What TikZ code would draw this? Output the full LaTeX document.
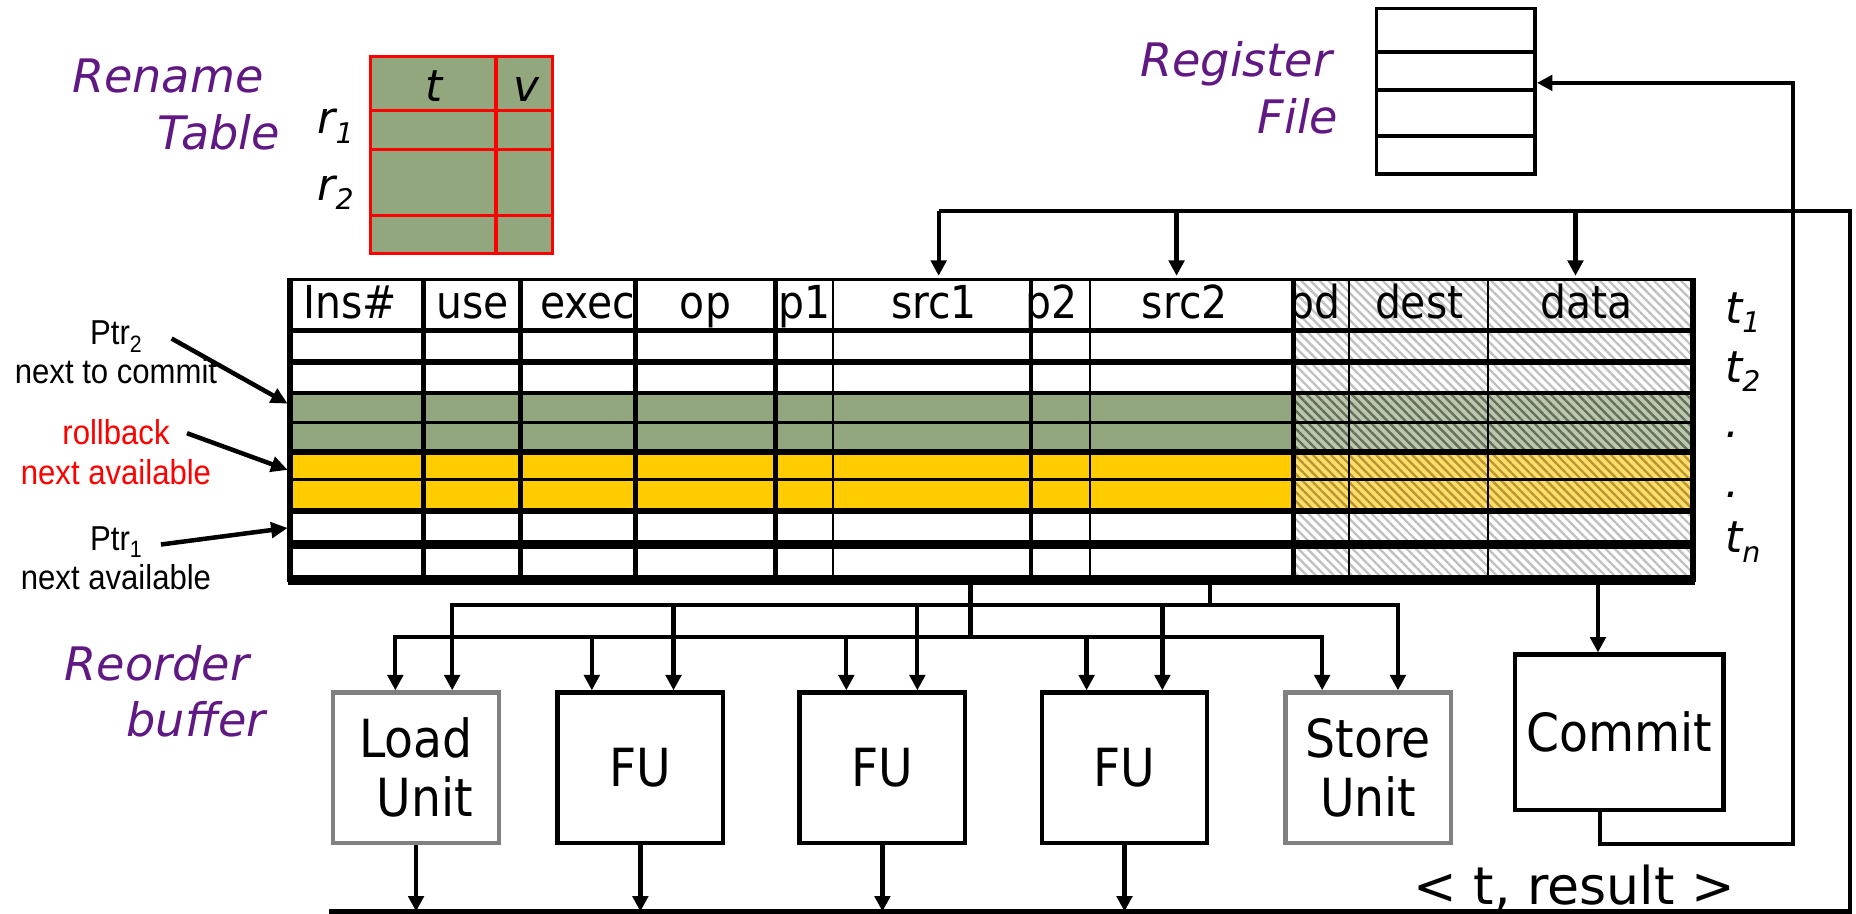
\documentclass[tikz,border=0pt]{standalone}
\usepackage{fontspec}
\usetikzlibrary{arrows.meta,patterns.meta,calc}
\newfontfamily\dvs{DejaVu Sans}
\newfontfamily\dvc[FakeStretch=0.9]{DejaVu Sans}
\newfontfamily\lbn[FakeStretch=0.9]{Liberation Sans}
\definecolor{robgreen}{RGB}{147,167,126}
\definecolor{hgreen}{RGB}{188,200,174}
\definecolor{pgreen}{RGB}{100,110,92}
\definecolor{robyellow}{RGB}{255,204,0}
\definecolor{hyellow}{RGB}{255,222,105}
\definecolor{pyellow}{RGB}{185,150,50}
\definecolor{labpurple}{RGB}{96,25,130}
\definecolor{unitgray}{RGB}{128,128,128}
\definecolor{hatchgray}{RGB}{192,192,192}
\newcommand\isub[1]{\raisebox{-4pt}{\fontsize{12}{12}\selectfont #1}}
\newcommand\psub[1]{\raisebox{-3pt}{\fontsize{10}{10}\selectfont #1}}
\newcommand\tsp[1]{\rule{#1}{0pt}}
\begin{document}
\begin{tikzpicture}[x=0.5pt,y=-0.5pt,
  purp/.style={font=\dvs\itshape\fontsize{19.5}{24}\selectfont, text=labpurple, inner sep=0pt, align=right},
  ital/.style={font=\dvs\itshape\fontsize{18.5}{22}\selectfont, inner sep=0pt},
  hdr/.style={font=\dvc\fontsize{19.2}{22}\selectfont, inner sep=0pt},
  ptrlab/.style={font=\lbn\fontsize{14.6}{16.5}\selectfont, inner sep=0pt, align=center},
  wire/.style={line width=1.8pt},
  arr/.style={wire, -{Triangle[length=6.5pt,width=6.5pt]}},
  arrtwo/.style={wire, {Triangle[length=6.5pt,width=6.5pt]}-{Triangle[length=6.5pt,width=6.5pt]}},
  ptrarr/.style={line width=1.9pt, -{Triangle[length=7pt,width=6.5pt]}},
  unitbox/.style={draw, line width=1.8pt, minimum width=70pt, minimum height=63.5pt, inner sep=0pt, font=\dvc\fontsize{22.2}{25}\selectfont},
  grayunit/.style={unitbox, draw=unitgray},
  hatch/.style={pattern={Lines[angle=-45,distance=2.7pt,line width=1pt]}},
]
\useasboundingbox (0,0) rectangle (1568,772);

% ---------- Rename table ----------
\fill[robgreen] (313,48) rectangle (467,214);
\draw[red, line width=1.3pt] (313,48) rectangle (467,214);
\draw[red, line width=1.3pt] (419,48) -- (419,214) (313,93) -- (467,93) (313,126) -- (467,126) (313,182) -- (467,182);
\node[ital, anchor=base] (rt) at (367,86) {t};
\node[ital, anchor=base] (rv) at (445,86) {v};
\node[ital, anchor=base west] (r1) at (268,113) {r\isub{1}};
\node[ital, anchor=base west] (r2) at (268,169) {r\isub{2}};
\node[purp, anchor=east] (rnl) at (237,88) {Rename\tsp{7pt}\\Table};

% ---------- Register file ----------
\node[draw, line width=1.5pt, minimum width=67pt, minimum height=70pt, inner sep=0pt] (regfile) at (1230,77) {};
\draw[line width=2pt] (1163,44) -- (1297,44) (1163,76) -- (1297,76) (1163,115) -- (1297,115);
\node[purp, anchor=east] (rfl) at (1131,74) {Register\tsp{2.5pt}\\File};

% ---------- Reorder buffer ----------
\fill[robgreen] (245,332) rectangle (1093,382);
\fill[robyellow] (245,382) rectangle (1093,432);
\fill[hgreen] (1093,332) rectangle (1430,382);
\fill[hyellow] (1093,382) rectangle (1430,432);
\fill[hatch, pattern color=hatchgray] (1093,236) rectangle (1430,332) (1093,432) rectangle (1430,490);
\fill[hatch, pattern color=pgreen] (1093,332) rectangle (1430,382);
\fill[hatch, pattern color=pyellow] (1093,382) rectangle (1430,432);

\node[hdr, anchor=base] (hins) at (296,269) {Ins\#};
\node[hdr, anchor=base] (huse) at (399,269) {use};
\node[hdr, anchor=base west] (hexec) at (456,269) {exec};
\node[hdr, anchor=base] (hop) at (596,269) {op};
\node[hdr, anchor=base west] (hp1) at (657,269) {p1};
\node[hdr, anchor=base] (hsrc1) at (789,269) {src1};
\node[hdr, anchor=base west] (hp2) at (866,269) {p2};
\node[hdr, anchor=base] (hsrc2) at (1001,269) {src2};
\node[hdr, anchor=base west] (hpd) at (1088,269) {pd};
\node[hdr, anchor=base] (hdest) at (1199,269) {dest};
\node[hdr, anchor=base] (hdata) at (1340,269) {data};

\draw[line width=1.5pt] (245,236) -- (1432,236);
\draw[line width=2.3pt] (245,279) -- (1430,279);
\draw[line width=2.4pt] (245,306) -- (1430,306);
\draw[line width=2pt] (245,332) -- (1430,332);
\draw[line width=1.5pt] (245,357) -- (1430,357);
\draw[line width=2.3pt] (245,382) -- (1430,382);
\draw[line width=1.2pt] (245,405) -- (1430,405);
\draw[line width=2.5pt] (245,432) -- (1430,432);
\draw[line width=3.5pt] (245,460) -- (1430,460);
\draw[line width=2pt] (358,236) -- (358,490) (440,236) -- (440,490) (537,236) -- (537,490)
  (655,236) -- (655,490) (871,236) -- (871,490) (1093,236) -- (1093,490);
\draw[line width=0.9pt] (704,236) -- (704,490) (921,236) -- (921,490) (1140,236) -- (1140,490) (1257,236) -- (1257,490);
\draw[line width=2.5pt] (245,235) -- (245,492) (1430,235) -- (1430,492);
\draw[line width=4.2pt] (243,490) -- (1432,490);

\node[ital, anchor=base west] (t1) at (1457,273) {t\isub{1}};
\node[ital, anchor=base west] (t2) at (1457,323) {t\isub{2}};
\node[ital, anchor=base west] (dot1) at (1457,370) {.};
\node[ital, anchor=base west] (dot2) at (1457,420) {.};
\node[ital, anchor=base west] (tn) at (1457,467) {t\isub{n}};

\node[purp, anchor=east] (robl) at (225,584) {Reorder\tsp{7pt}\\buffer};

% ---------- pointers ----------
\node[ptrlab] (p2l) at (98,298) {Ptr\psub{2}\\next to commit};
\node[ptrlab, text=red] (rbl) at (98,382) {rollback\\next available};
\node[ptrlab] (p1l) at (98,472) {Ptr\psub{1}\\next available};
\coordinate (a2s) at (145,286); \coordinate (a2e) at (243,341);
\coordinate (ars) at (158,366); \coordinate (are) at (243,397);
\coordinate (a1s) at (136,460); \coordinate (a1e) at (243,446);
\draw[ptrarr] (a2s) -- (a2e);
\draw[ptrarr] (ars) -- (are);
\draw[ptrarr] (a1s) -- (a1e);

% ---------- units ----------
\node[grayunit, align=right] (load) at (351.5,648.5) {Load\\Unit};
\node[unitbox] (fu1) at (541,648.5) {FU};
\node[unitbox] (fu2) at (745.5,648.5) {FU};
\node[unitbox] (fu3) at (950,648.5) {FU};
\node[grayunit, align=center] (store) at (1156,648.5) {Store\\Unit};
\node[unitbox, minimum width=88pt, minimum height=65.5pt] (commit) at (1368,618.5) {Commit};

% ---------- result bus and register path ----------
\coordinate (topL) at (793,178);
\coordinate (topR) at (1563,178);
\coordinate (botL) at (278,770);
\coordinate (botR) at (1563,770);
\draw[wire] (botL) -- (botR) -- (topR) -- (topL);
\coordinate (rin1) at (793,233);
\coordinate (rin2) at (994,233);
\coordinate (rin3) at (1331,233);
\draw[arr] (topL) -- (rin1);
\draw[arr] (rin2 |- topL) -- (rin2);
\draw[arr] (rin3 |- topL) -- (rin3);

\foreach \u in {load,fu1,fu2,fu3} \draw[arr] (\u.south) -- (\u.south |- botL);

\node[font=\dvs\fontsize{22}{26}\selectfont, inner sep=0pt, anchor=base] (res) at (1330,764) {< t, result >};

\coordinate (loopR) at (1515,713);
\coordinate (loopT) at (1515,70);
\draw[arr] ([xshift=-8pt]commit.south) |- (loopR) -- (loopT) -- ([yshift=3.5pt]regfile.east);
\coordinate (fC) at (1350,493);
\draw[arr] (fC) -- (fC |- commit.north);

% ---------- operand buses ----------
\coordinate (fA) at (1022,492); \coordinate (busA) at (1022,511);
\coordinate (fB) at (820,492);  \coordinate (busB) at (820,538);
\coordinate (dLA) at ($(load.north)+(30.5,0)$);
\coordinate (dLB) at ($(load.north)+(-17.5,0)$);
\coordinate (d1A) at ($(fu1.north)+(28,0)$);
\coordinate (d1B) at ($(fu1.north)+(-41,0)$);
\coordinate (d2A) at ($(fu2.north)+(29.5,0)$);
\coordinate (d2B) at ($(fu2.north)+(-30.5,0)$);
\coordinate (d3A) at ($(fu3.north)+(32,0)$);
\coordinate (d3B) at ($(fu3.north)+(-32,0)$);
\coordinate (dSA) at ($(store.north)+(25,0)$);
\coordinate (dSB) at ($(store.north)+(-39,0)$);
\draw[wire] (fA) -- (busA);
\draw[wire] (fB) -- (busB);
\draw[arrtwo] (dLA) -- (dLA |- busA) -- (dSA |- busA) -- (dSA);
\draw[arrtwo] (dLB) -- (dLB |- busB) -- (dSB |- busB) -- (dSB);
\foreach \d in {d1A,d2A,d3A} \draw[arr] (\d |- busA) -- (\d);
\foreach \d in {d1B,d2B,d3B} \draw[arr] (\d |- busB) -- (\d);
\end{tikzpicture}
\end{document}
